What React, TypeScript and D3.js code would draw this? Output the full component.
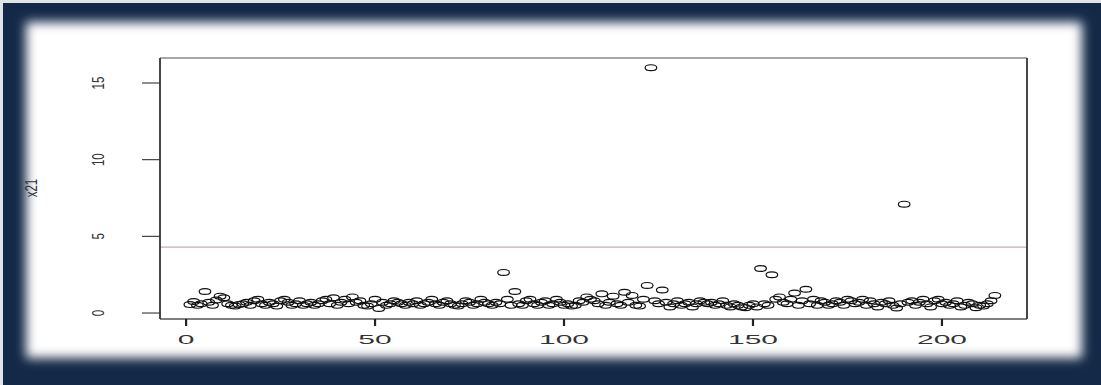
import React from "react";
import * as d3 from "d3";

const x21Values: number[] = [
  0.55, 0.75, 0.5, 0.6, 1.4, 0.7, 0.5, 0.85, 1.1, 1.0,
  0.6, 0.5, 0.45, 0.55, 0.6, 0.7, 0.5, 0.8, 0.9, 0.6,
  0.5, 0.7, 0.6, 0.45, 0.8, 0.9, 0.7, 0.5, 0.6, 0.8,
  0.5, 0.6, 0.7, 0.5, 0.6, 0.8, 0.9, 0.6, 1.0, 0.5,
  0.7, 0.9, 0.6, 1.05, 0.7, 0.8, 0.5, 0.45, 0.6, 0.9,
  0.3, 0.7, 0.5, 0.6, 0.8, 0.7, 0.6, 0.5, 0.7, 0.6,
  0.8, 0.5, 0.6, 0.7, 0.9, 0.6, 0.5, 0.7, 0.8, 0.6,
  0.5, 0.45, 0.6, 0.8, 0.7, 0.5, 0.6, 0.9, 0.7, 0.6,
  0.5, 0.7, 0.6, 2.65, 0.9, 0.5, 1.4, 0.6, 0.5, 0.8,
  0.9, 0.6, 0.5, 0.7, 0.8, 0.5, 0.6, 0.9, 0.7, 0.5,
  0.6, 0.45, 0.5, 0.8, 0.7, 1.05, 0.9, 0.8, 0.6, 1.25,
  0.5, 0.7, 1.1, 0.6, 0.5, 1.35, 0.7, 1.15, 0.5, 0.45,
  0.9, 1.8, 16.0, 0.8, 0.6, 1.5, 0.7, 0.4, 0.6, 0.8,
  0.5, 0.6, 0.7, 0.4, 0.6, 0.8, 0.7, 0.6, 0.7, 0.5,
  0.6, 0.8, 0.5, 0.4, 0.6, 0.5, 0.4, 0.35, 0.5, 0.6,
  0.4, 2.9, 0.6, 0.5, 2.5, 0.9, 1.05, 0.7, 0.6, 0.9,
  1.3, 0.5, 0.8, 1.55, 0.6, 0.9, 0.5, 0.8, 0.7, 0.5,
  0.6, 0.8, 0.7, 0.5, 0.9, 0.8, 0.6, 0.7, 0.9, 0.5,
  0.8, 0.6, 0.4, 0.7, 0.6, 0.8, 0.5, 0.33, 0.6, 7.1,
  0.7, 0.8, 0.5, 0.7, 0.9, 0.6, 0.4, 0.8, 0.9, 0.6,
  0.7, 0.5, 0.6, 0.8, 0.4, 0.5, 0.7, 0.6, 0.35, 0.5,
  0.45, 0.6, 0.8, 1.15,
];

const xTicks: number[] = [0, 50, 100, 150, 200];
const yTicks: number[] = [0, 5, 10, 15];
const thresholdValue = 4.3;
const yLabel = "x21";

const W = 1101;
const H = 385;
const plot = { left: 160, right: 1027, top: 58, bottom: 319 };

export default function App() {
  const x = d3.scaleLinear().domain([-6.9, 222.5]).range([plot.left, plot.right]);
  const y = d3.scaleLinear().domain([-0.39, 16.63]).range([plot.bottom, plot.top]);
  const font = "Liberation Sans, Arial, sans-serif";

  return (
    <svg
      width={W}
      height={H}
      style={{ position: "absolute", left: 0, top: 0, display: "block" }}
    >
      <defs>
        <filter id="soft" x="-5%" y="-10%" width="110%" height="120%">
          <feGaussianBlur stdDeviation="5.5" />
        </filter>
      </defs>
      <rect x={0} y={0} width={W} height={H} fill="#132947" />
      <rect x={0} y={0} width={W} height={3} fill="#dfe3ea" />
      <rect x={0} y={0} width={3} height={H} fill="#dfe3ea" />
      <rect x={26} y={22} width={1056} height={336} fill="#ffffff" filter="url(#soft)" />

      {/* threshold line */}
      <line
        x1={plot.left}
        x2={plot.right}
        y1={y(thresholdValue)}
        y2={y(thresholdValue)}
        stroke="#bfaeb0"
        strokeWidth={1.2}
      />

      {/* points */}
      {x21Values.map((v, i) => (
        <ellipse
          key={i}
          cx={x(i + 1)}
          cy={y(v)}
          rx={5.8}
          ry={2.9}
          fill="none"
          stroke="#111"
          strokeWidth={1.2}
        />
      ))}

      {/* box */}
      <line x1={plot.left} x2={plot.right} y1={plot.top} y2={plot.top} stroke="#8a8a8a" strokeWidth={1.6} />
      <line x1={plot.left} x2={plot.right} y1={plot.bottom} y2={plot.bottom} stroke="#555" strokeWidth={1.6} />
      <line x1={plot.left} x2={plot.left} y1={plot.top} y2={plot.bottom} stroke="#333" strokeWidth={1.8} />
      <line x1={plot.right} x2={plot.right} y1={plot.top} y2={plot.bottom} stroke="#333" strokeWidth={1.8} />

      {/* x axis */}
      {xTicks.map((t) => (
        <g key={"xt" + t}>
          <line x1={x(t)} x2={x(t)} y1={plot.bottom} y2={plot.bottom + 7} stroke="#222" strokeWidth={2.2} />
          <text
            transform={`translate(${x(t)},${plot.bottom + 25}) scale(2.4,1)`}
            textAnchor="middle"
            fontFamily={font}
            fontSize={12.5}
            fill="#333"
          >
            {t}
          </text>
        </g>
      ))}

      {/* y axis */}
      {yTicks.map((t) => (
        <g key={"yt" + t}>
          <line x1={plot.left - 18} x2={plot.left} y1={y(t)} y2={y(t)} stroke="#333" strokeWidth={1.1} />
          <text
            transform={`translate(${103.5},${y(t)}) scale(1.4,1) rotate(-90)`}
            textAnchor="middle"
            fontFamily={font}
            fontSize={11.5}
            fill="#333"
          >
            {t}
          </text>
        </g>
      ))}

      <text
        transform={`translate(${37},${188}) scale(1.4,1) rotate(-90)`}
        textAnchor="middle"
        fontFamily={font}
        fontSize={11.5}
        fill="#333"
      >
        {yLabel}
      </text>
    </svg>
  );
}
